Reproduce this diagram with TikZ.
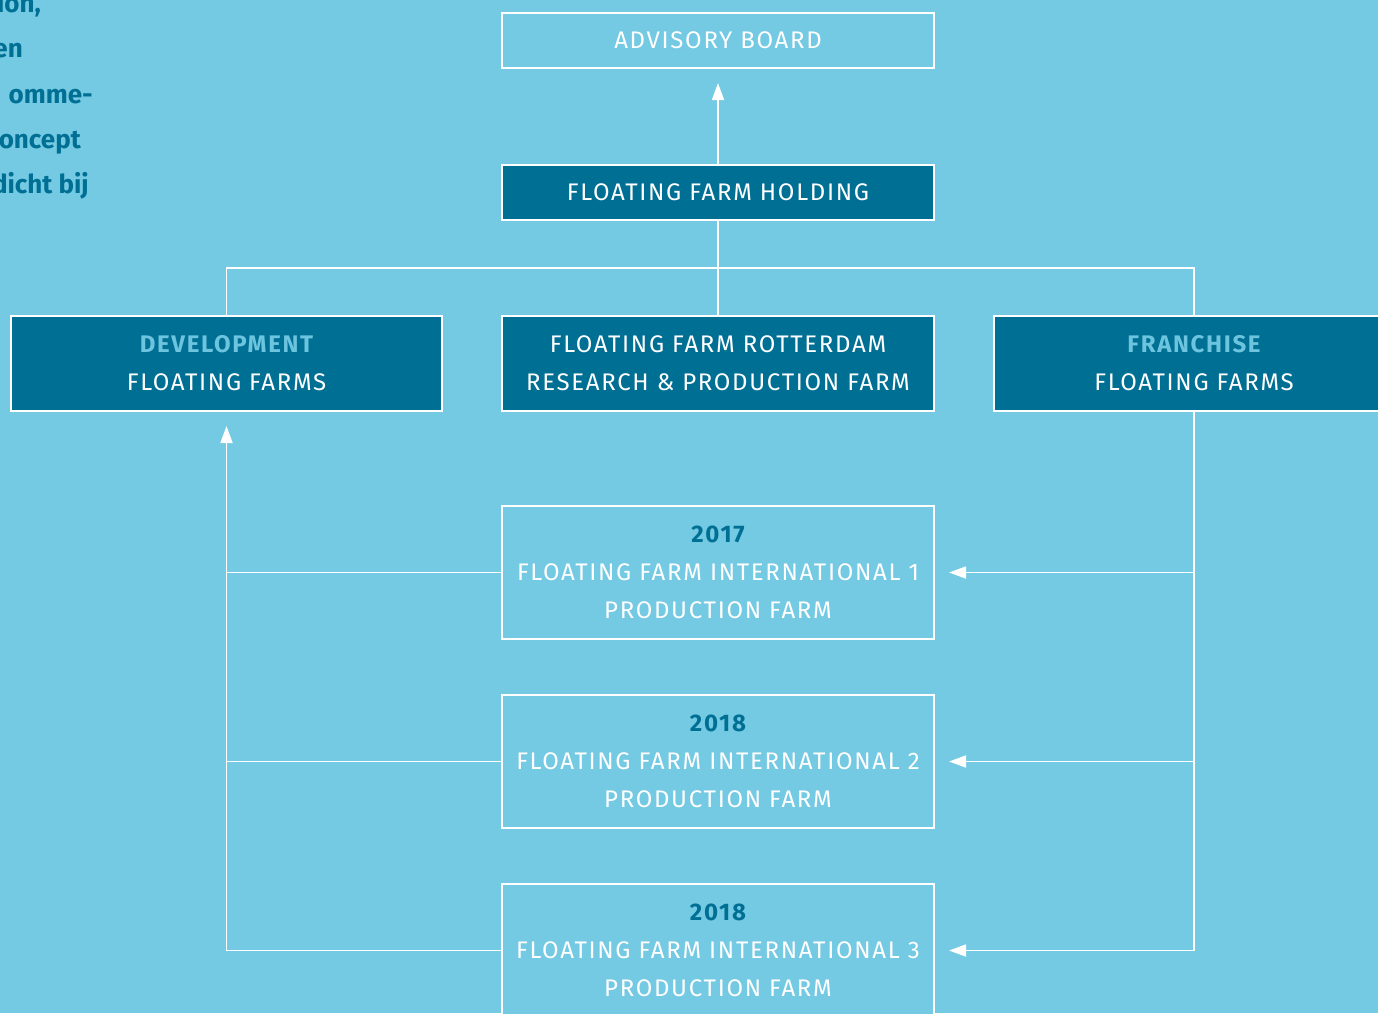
\documentclass[tikz,border=0pt]{standalone}
\usepackage{fontspec}
\usetikzlibrary{arrows.meta,calc}
\newfontfamily\lblfont{Fira Sans}[LetterSpace=7]
\newfontfamily\parfont{Fira Sans}
\definecolor{bgblue}{RGB}{116,201,227}
\definecolor{darkblue}{RGB}{0,111,148}
\definecolor{midblue}{RGB}{108,196,222}
\tikzset{
  box/.style={draw=white, line width=2pt, minimum width=432pt, text=white, align=center,
    font={\lblfont\fontsize{24}{38}\selectfont}, inner sep=0pt},
  lightbox/.style={box, fill=bgblue},
  darkbox/.style={box, fill=darkblue},
  conn/.style={draw=white, line width=1.8pt},
  arr/.style={conn, -{Triangle[width=12pt,length=17pt]}, shorten >=14pt},
  partext/.style={anchor=base east, text=darkblue, font={\parfont\bfseries\fontsize{26}{30}\selectfont}, inner sep=0pt}
}
\newcommand{\yr}[1]{\textcolor{darkblue}{\bfseries #1}}
\newcommand{\hl}[1]{\textcolor{midblue}{\bfseries #1}}
\begin{document}
\begin{tikzpicture}[x=1pt,y=-1pt]
\fill[bgblue] (0,0) rectangle (1378,1013);
\useasboundingbox (0,0) rectangle (1378,1013);
% partial paragraph
\node[partext] (p1) at (41,12) {ion,};
\node[partext] (p2) at (23,57) {en};
\node[partext] (p3) at (93,103) {omme-};
\node[partext] (p4) at (81,148) {oncept};
\node[partext] (p5) at (89,193) {dicht bij};
% boxes
\node[lightbox, minimum height=55pt] (adv) at (718,40.5) {ADVISORY BOARD};
\node[darkbox, minimum height=55pt] (hold) at (718,192.5) {FLOATING FARM HOLDING};
\node[darkbox, minimum width=431pt, minimum height=95pt] (dev) at (226.5,363.5) {\hl{DEVELOPMENT}\\FLOATING FARMS};
\node[darkbox, minimum height=95pt] (rot) at (718,363.5) {FLOATING FARM ROTTERDAM\\RESEARCH \& PRODUCTION FARM};
\node[darkbox, minimum width=400pt, minimum height=95pt] (fr) at (1194,363.5) {\hl{FRANCHISE}\\FLOATING FARMS};
\node[lightbox, minimum height=133pt] (i1) at (718,572.5) {\yr{2017}\\FLOATING FARM INTERNATIONAL 1\\PRODUCTION FARM};
\node[lightbox, minimum height=133pt] (i2) at (718,761.5) {\yr{2018}\\FLOATING FARM INTERNATIONAL 2\\PRODUCTION FARM};
\node[lightbox, minimum height=133pt] (i3) at (718,950.5) {\yr{2018}\\FLOATING FARM INTERNATIONAL 3\\PRODUCTION FARM};
% connectors
\coordinate (hub) at (718,268);
\draw[arr] (hold) -- (adv);
\draw[conn] (hold.south) -- (rot.north);
\draw[conn] (dev.north) |- (hub) -| (fr.north);
\draw[conn] (fr.south) -- (fr.south |- i3.east);
\draw[arr] (fr.south |- i1.east) -- (i1.east);
\draw[arr] (fr.south |- i2.east) -- (i2.east);
\draw[arr] (fr.south |- i3.east) -- (i3.east);
\draw[conn] (i1.west) -- (i1.west -| dev.south);
\draw[conn] (i2.west) -- (i2.west -| dev.south);
\draw[conn] (i3.west) -- (i3.west -| dev.south);
\draw[arr] (i3.west -| dev.south) -- (dev.south);
\end{tikzpicture}
\end{document}
